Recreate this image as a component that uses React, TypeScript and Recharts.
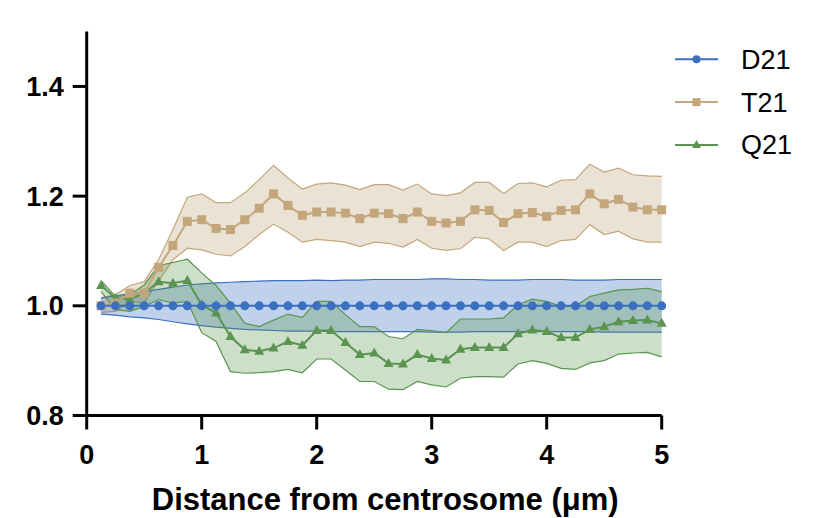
import React from 'react';
import { ComposedChart, Area, Line, XAxis, YAxis } from 'recharts';

const FONT = '"Liberation Sans", Arial, Helvetica, sans-serif';

// distance from centrosome (um)
const distance = [
  0.125, 0.25, 0.375, 0.5, 0.625, 0.75, 0.875, 1.0, 1.125, 1.25,
  1.375, 1.5, 1.625, 1.75, 1.875, 2.0, 2.125, 2.25, 2.375, 2.5,
  2.625, 2.75, 2.875, 3.0, 3.125, 3.25, 3.375, 3.5, 3.625, 3.75,
  3.875, 4.0, 4.125, 4.25, 4.375, 4.5, 4.625, 4.75, 4.875, 5.0,
];

const d21Mean = [
  1, 1, 1, 1, 1, 1, 1, 1, 1, 1, 1, 1, 1, 1, 1, 1, 1, 1, 1, 1,
  1, 1, 1, 1, 1, 1, 1, 1, 1, 1, 1, 1, 1, 1, 1, 1, 1, 1, 1, 1,
];
const d21High = [
  1.014, 1.018, 1.022, 1.026, 1.030, 1.034, 1.038, 1.040, 1.042, 1.043,
  1.044, 1.045, 1.046, 1.046, 1.046, 1.047, 1.046, 1.047, 1.047, 1.048,
  1.048, 1.048, 1.048, 1.049, 1.049, 1.048, 1.048, 1.047, 1.047, 1.047,
  1.048, 1.048, 1.048, 1.047, 1.047, 1.047, 1.048, 1.048, 1.048, 1.048,
];
const d21Low = [
  0.985, 0.983, 0.980, 0.978, 0.975, 0.971, 0.967, 0.964, 0.961, 0.959,
  0.957, 0.956, 0.955, 0.954, 0.954, 0.954, 0.953, 0.953, 0.953, 0.953,
  0.953, 0.953, 0.953, 0.952, 0.952, 0.952, 0.953, 0.953, 0.953, 0.953,
  0.953, 0.953, 0.953, 0.953, 0.953, 0.952, 0.952, 0.952, 0.952, 0.952,
];

const t21Mean = [
  1.000, 1.005, 1.023, 1.023, 1.070, 1.110, 1.154, 1.157, 1.141, 1.139,
  1.157, 1.178, 1.204, 1.183, 1.165, 1.171, 1.171, 1.169, 1.159, 1.169,
  1.168, 1.159, 1.171, 1.154, 1.151, 1.154, 1.175, 1.174, 1.152, 1.168,
  1.170, 1.163, 1.174, 1.175, 1.204, 1.186, 1.194, 1.180, 1.175, 1.175,
];
const t21High = [
  1.015, 1.020, 1.037, 1.044, 1.084, 1.139, 1.198, 1.204, 1.188, 1.188,
  1.206, 1.230, 1.256, 1.233, 1.213, 1.222, 1.224, 1.220, 1.212, 1.221,
  1.221, 1.211, 1.222, 1.204, 1.201, 1.206, 1.225, 1.225, 1.205, 1.223,
  1.224, 1.217, 1.229, 1.230, 1.258, 1.244, 1.251, 1.239, 1.237, 1.236,
];
const t21Low = [
  0.988, 0.990, 1.008, 1.005, 1.045, 1.084, 1.105, 1.102, 1.094, 1.091,
  1.108, 1.130, 1.149, 1.134, 1.116, 1.121, 1.119, 1.116, 1.108, 1.116,
  1.114, 1.107, 1.121, 1.105, 1.101, 1.104, 1.125, 1.122, 1.101, 1.116,
  1.116, 1.108, 1.119, 1.121, 1.148, 1.130, 1.136, 1.122, 1.116, 1.116,
];

const q21Mean = [
  1.037, 1.014, 1.012, 1.023, 1.044, 1.041, 1.046, 1.002, 0.987, 0.944,
  0.920, 0.917, 0.923, 0.935, 0.928, 0.955, 0.955, 0.933, 0.911, 0.914,
  0.895, 0.894, 0.911, 0.904, 0.901, 0.921, 0.924, 0.924, 0.924, 0.949,
  0.956, 0.953, 0.942, 0.942, 0.957, 0.962, 0.971, 0.973, 0.974, 0.968,
];
const q21High = [
  1.046, 1.017, 1.020, 1.038, 1.073, 1.079, 1.085, 1.060, 1.037, 1.005,
  0.968, 0.962, 0.974, 0.985, 0.979, 1.008, 1.008, 0.984, 0.962, 0.962,
  0.944, 0.940, 0.957, 0.955, 0.951, 0.976, 0.976, 0.976, 0.978, 1.002,
  1.012, 1.008, 0.999, 0.999, 1.017, 1.023, 1.029, 1.030, 1.032, 1.026,
];
const q21Low = [
  1.026, 0.993, 0.990, 0.999, 1.011, 1.005, 1.008, 0.951, 0.935, 0.880,
  0.877, 0.878, 0.880, 0.884, 0.878, 0.903, 0.903, 0.883, 0.862, 0.862,
  0.848, 0.847, 0.862, 0.856, 0.852, 0.868, 0.871, 0.871, 0.870, 0.894,
  0.900, 0.895, 0.886, 0.884, 0.896, 0.900, 0.912, 0.914, 0.915, 0.907,
];

const xTicks = [0, 1, 2, 3, 4, 5];
const yTicks = [0.8, 1.0, 1.2, 1.4];

const BLUE = '#3b6fc0';
const TAN = '#c4a67c';
const GREEN = '#5a9450';

const data = distance.map((x, i) => ({
  x,
  d21: d21Mean[i],
  d21Band: [d21Low[i], d21High[i]],
  t21: t21Mean[i],
  t21Band: [t21Low[i], t21High[i]],
  q21: q21Mean[i],
  q21Band: [q21Low[i], q21High[i]],
}));

const circleDot = (p: any) => (
  <circle key={`c-${p.index}`} cx={p.cx} cy={p.cy} r={4.5} fill={BLUE} />
);
const squareDot = (p: any) => (
  <rect key={`s-${p.index}`} x={p.cx - 4.5} y={p.cy - 4.5} width={9} height={9} fill={TAN} />
);
const triDot = (p: any) => (
  <polygon
    key={`t-${p.index}`}
    points={`${p.cx},${p.cy - 5.5} ${p.cx - 5},${p.cy + 3.5} ${p.cx + 5},${p.cy + 3.5}`}
    fill={GREEN}
  />
);

const legendItems = [
  { name: 'D21', color: BLUE, shape: 'circle' },
  { name: 'T21', color: TAN, shape: 'square' },
  { name: 'Q21', color: GREEN, shape: 'triangle' },
];

function LegendBox() {
  return (
    <svg width={150} height={130} style={{ position: 'absolute', left: 660, top: 30 }}>
      {legendItems.map((it, i) => {
        const y = 21.3 + i * 42.8;
        return (
          <g key={it.name}>
            <line x1={7} x2={50} y1={y} y2={y} stroke={it.color} strokeWidth={2} />
            {it.shape === 'circle' && <circle cx={28.5} cy={y} r={4} fill={it.color} />}
            {it.shape === 'square' && <rect x={24.5} y={y - 4} width={8} height={8} fill={it.color} />}
            {it.shape === 'triangle' && (
              <polygon points={`28.5,${y - 5} 24,${y + 3} 33,${y + 3}`} fill={it.color} />
            )}
            <text x={73} y={y + 9.5} fontSize={27} fontFamily={FONT} fill="#000">
              {it.name}
            </text>
          </g>
        );
      })}
    </svg>
  );
}

export default function App() {
  const tickStyle = { fontSize: 27, fontWeight: 'bold', fill: '#000', fontFamily: FONT };
  return (
    <div style={{ position: 'relative', width: 813, height: 510 }}>
      <ComposedChart
        width={813}
        height={510}
        data={data}
        margin={{ top: 23.6, right: 159.3, bottom: 0, left: 18.7 }}
      >
        <XAxis
          dataKey="x"
          type="number"
          domain={[0, 5]}
          ticks={xTicks}
          height={102.5}
          tickSize={14}
          tickMargin={15}
          axisLine={{ stroke: '#000', strokeWidth: 3 }}
          tickLine={{ stroke: '#000', strokeWidth: 3 }}
          tick={tickStyle}
          label={{
            value: 'Distance from centrosome (\u03BCm)',
            position: 'insideBottom',
            offset: 8,
            dx: 11,
            style: { fontSize: 31, fontWeight: 'bold', fill: '#000', fontFamily: FONT },
          }}
        />
        <YAxis
          type="number"
          domain={[0.8, 1.5]}
          ticks={yTicks}
          width={60}
          tickSize={14}
          tickMargin={9}
          allowDataOverflow
          tickFormatter={(v: number) => v.toFixed(1)}
          axisLine={{ stroke: '#000', strokeWidth: 3 }}
          tickLine={{ stroke: '#000', strokeWidth: 3 }}
          tick={tickStyle}
        />
        <Area
          dataKey="t21Band"
          type="linear"
          stroke={TAN}
          strokeWidth={1.2}
          fill="#bea078"
          fillOpacity={0.3}
          isAnimationActive={false}
          activeDot={false}
        />
        <Area
          dataKey="d21Band"
          type="linear"
          stroke={BLUE}
          strokeWidth={1.2}
          fill="#2f6bbd"
          fillOpacity={0.3}
          isAnimationActive={false}
          activeDot={false}
        />
        <Area
          dataKey="q21Band"
          type="linear"
          stroke={GREEN}
          strokeWidth={1.2}
          fill="#5a964b"
          fillOpacity={0.3}
          isAnimationActive={false}
          activeDot={false}
        />
        <Line
          dataKey="q21"
          type="linear"
          stroke={GREEN}
          strokeWidth={2}
          dot={triDot}
          activeDot={false}
          isAnimationActive={false}
        />
        <Line
          dataKey="t21"
          type="linear"
          stroke={TAN}
          strokeWidth={2}
          dot={squareDot}
          activeDot={false}
          isAnimationActive={false}
        />
        <Line
          dataKey="d21"
          type="linear"
          stroke={BLUE}
          strokeWidth={2}
          dot={circleDot}
          activeDot={false}
          isAnimationActive={false}
        />
      </ComposedChart>
      <LegendBox />
    </div>
  );
}
